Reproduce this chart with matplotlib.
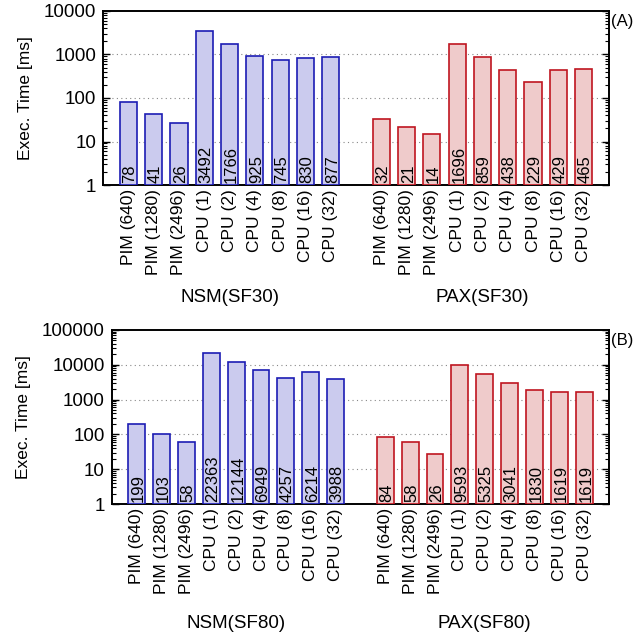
import numpy as np
import matplotlib.pyplot as plt
from matplotlib.ticker import LogLocator, NullFormatter

plt.rcParams['font.family'] = ['Liberation Sans', 'DejaVu Sans']

configs = ["PIM (640)", "PIM (1280)", "PIM (2496)", "CPU (1)", "CPU (2)",
           "CPU (4)", "CPU (8)", "CPU (16)", "CPU (32)"]

nsm_sf30 = [78, 41, 26, 3492, 1766, 925, 745, 830, 877]
pax_sf30 = [32, 21, 14, 1696, 859, 438, 229, 429, 465]
nsm_sf80 = [199, 103, 58, 22363, 12144, 6949, 4257, 6214, 3988]
pax_sf80 = [84, 58, 26, 9593, 5325, 3041, 1830, 1619, 1619]

BLUE_FILL, BLUE_EDGE = "#cbcbee", "#1c1cb4"
RED_FILL, RED_EDGE = "#efcbcb", "#bf1520"

VFS = 12.5   # rotated text
HFS = 13.5   # horizontal text


def panel(ax, nsm, pax, ymax, sf, tag, group_off):
    n = len(configs)
    x_nsm = np.arange(n)
    x_pax = np.arange(n) + n + 1
    ax.bar(x_nsm, nsm, width=0.68, bottom=1, color=BLUE_FILL,
           edgecolor=BLUE_EDGE, linewidth=1.2, zorder=3)
    ax.bar(x_pax, pax, width=0.68, bottom=1, color=RED_FILL,
           edgecolor=RED_EDGE, linewidth=1.2, zorder=3)
    ax.set_yscale("log")
    ax.set_ylim(1, ymax)
    ax.set_xlim(-1, 2 * n + 1)

    # values written upward from the base of each bar
    for xs, vals in ((x_nsm, nsm), (x_pax, pax)):
        for x, v in zip(xs, vals):
            ax.annotate(str(v), (x, 1), xytext=(1.2, 1.5), textcoords="offset points",
                        rotation=90, ha="center", va="bottom", fontsize=12,
                        zorder=4)

    ax.set_xticks(list(x_nsm) + list(x_pax))
    ax.set_xticklabels(configs + configs, rotation=90, fontsize=VFS)
    ax.tick_params(axis="x", length=0, pad=3)

    ax.yaxis.set_major_locator(LogLocator(base=10, numticks=10))
    ax.yaxis.set_minor_locator(LogLocator(base=10, subs=np.arange(2, 10), numticks=20))
    ax.yaxis.set_minor_formatter(NullFormatter())
    ax.yaxis.set_major_formatter(plt.FuncFormatter(lambda v, p: f"{int(round(v))}"))
    ax.tick_params(axis="y", which="both", direction="in", left=True, right=True,
                   labelsize=HFS, pad=5)
    ax.tick_params(axis="y", which="major", length=5, width=1)
    ax.tick_params(axis="y", which="minor", length=3, width=0.8)
    ax.set_ylabel("Exec. Time [ms]", fontsize=VFS, labelpad=8)

    # dotted grid at inner decades
    for v in ax.get_yticks():
        if 1 < v < ymax:
            ax.axhline(v, color="#888888", linestyle=(0, (1, 3)), linewidth=0.8,
                       zorder=1)

    for s in ax.spines.values():
        s.set_linewidth(1.4)

    ax.text(1.004, 0.985, tag, transform=ax.transAxes, ha="left", va="top",
            fontsize=12)
    for xs, name in ((x_nsm, "NSM"), (x_pax, "PAX")):
        ax.annotate(f"{name}({sf})", (xs.mean(), 0),
                    xycoords=("data", "axes fraction"),
                    xytext=(0, group_off), textcoords="offset points", ha="center",
                    va="center", fontsize=HFS, annotation_clip=False)


fig = plt.figure(figsize=(6.36, 6.38), dpi=100)
ax_a = fig.add_axes([0.162, 0.710, 0.7955, 0.2728])
ax_b = fig.add_axes([0.176, 0.210, 0.7815, 0.2728])

panel(ax_a, nsm_sf30, pax_sf30, 10000, "SF30", "(A)", -81)
panel(ax_b, nsm_sf80, pax_sf80, 100000, "SF80", "(B)", -86)

fig.savefig("out.png", dpi=100)
